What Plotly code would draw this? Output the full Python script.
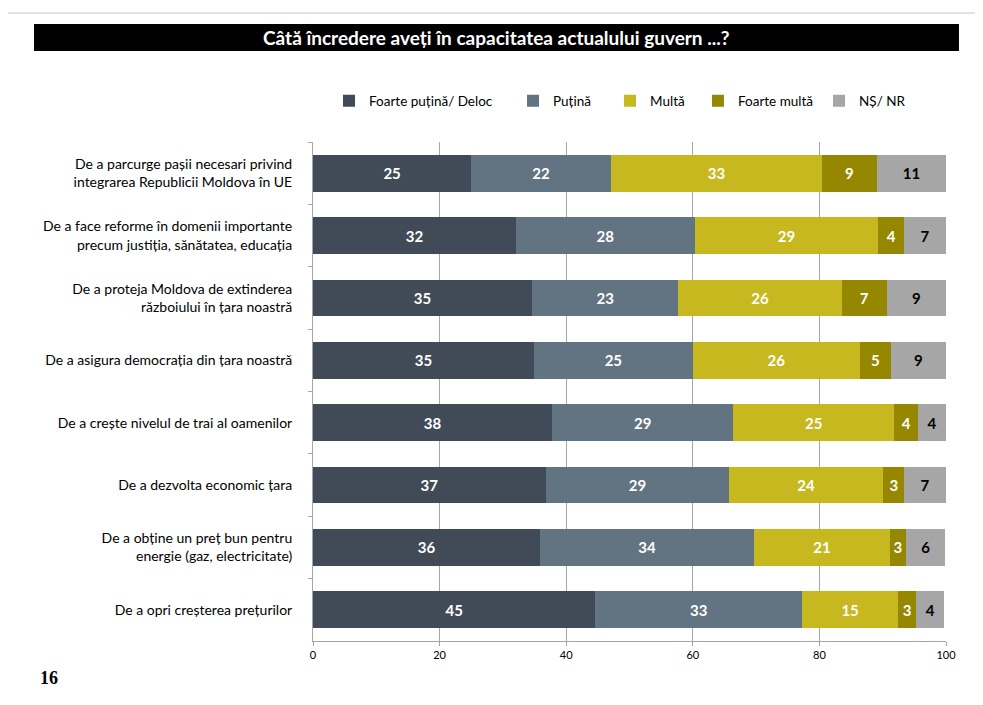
import plotly.graph_objects as go

# Categorii (de sus in jos)
categorii = [
    "De a parcurge pașii necesari privind<br>integrarea Republicii Moldova în UE",
    "De a face reforme în domenii importante<br>precum justiția, sănătatea, educația",
    "De a proteja Moldova de extinderea<br>războiului în țara noastră",
    "De a asigura democrația din țara noastră",
    "De a crește nivelul de trai al oamenilor",
    "De a dezvolta economic țara",
    "De a obține un preț bun pentru<br>energie (gaz, electricitate)",
    "De a opri creșterea prețurilor",
]

# Valori (%)
foarte_putina = [25.0, 32.1, 34.6, 34.9, 37.8, 36.8, 35.9, 44.6]
putina = [22.1, 28.2, 23.1, 25.1, 28.6, 28.9, 33.8, 32.7]
multa = [33.3, 29.0, 25.9, 26.4, 25.4, 24.4, 21.4, 15.1]
foarte_multa = [8.7, 4.1, 7.0, 4.9, 3.8, 3.3, 2.6, 2.9]
ns_nr = [10.9, 6.6, 9.4, 8.7, 4.4, 6.6, 6.2, 4.4]

serii = ["Foarte puțină/ Deloc", "Puțină", "Multă", "Foarte multă", "NȘ/ NR"]
valori = [foarte_putina, putina, multa, foarte_multa, ns_nr]
culori = ["#404b57", "#627382", "#c8b820", "#958700", "#a6a6a6"]
culori_text = ["white", "white", "white", "white", "black"]

font = "Lato"

# fiecare element de legenda are propria pozitie (ca in Excel)
legende = ["legend", "legend2", "legend3", "legend4", "legend5"]
pozitii_legenda = [0.0253, 0.316, 0.4692, 0.6082, 0.7994]

fig = go.Figure()
for nume, val, cul, cul_txt, leg in zip(serii, valori, culori, culori_text, legende):
    fig.add_trace(go.Bar(
        y=categorii, x=val, name=nume, orientation="h",
        marker=dict(color=cul, line=dict(width=0)),
        width=0.59,
        texttemplate="%{x:.0f}", textposition="inside", insidetextanchor="middle",
        textangle=0,
        textfont=dict(family=font, size=15, color=cul_txt, weight="bold"),
        hoverinfo="skip", legend=leg,
    ))

# pagina are 8px margine in browser, deci totul e mutat cu 8px
fig.update_layout(
    barmode="stack",
    width=975, height=697,
    margin=dict(l=305, r=37, t=134, b=64),
    paper_bgcolor="white", plot_bgcolor="white",
    font=dict(family=font, color="black"),
    uniformtext=dict(minsize=15, mode="show"),
    showlegend=True,
    bargap=0.41,
)
for leg, px in zip(legende, pozitii_legenda):
    fig.update_layout({leg: dict(
        orientation="h", x=px, y=1.082, xanchor="left", yanchor="middle",
        font=dict(family=font, size=13.5, color="black"),
        itemwidth=30, bgcolor="rgba(0,0,0,0)",
    )})

fig.update_xaxes(
    range=[0, 100], dtick=20, showgrid=True, gridcolor="#a6a6a6", gridwidth=1,
    showline=True, linecolor="#a6a6a6", linewidth=1,
    ticks="outside", ticklen=4, tickcolor="#a6a6a6",
    tickfont=dict(family=font, size=11, color="black"), zeroline=False,
)
fig.update_yaxes(
    autorange="reversed", showline=True, linecolor="#a6a6a6", linewidth=1,
    ticks="outside", ticklen=4, tickcolor="#a6a6a6", tickson="boundaries",
    ticklabelstandoff=17,
    showgrid=False, tickfont=dict(family=font, size=14, color="black"),
)

# banda neagra a titlului
fig.add_shape(type="rect", xref="paper", yref="paper",
              x0=-0.4408, x1=1.0205, y0=1.1824, y1=1.2365,
              fillcolor="black", line=dict(width=0), layer="below")
fig.add_annotation(text="<b>Câtă încredere aveți în capacitatea actualului guvern ...?</b>",
                   xref="paper", yref="paper", x=0.289, y=1.2095,
                   xanchor="center", yanchor="middle", showarrow=False,
                   font=dict(family=font, size=19, color="white"))
# linia gri de sus
fig.add_shape(type="line", xref="paper", yref="paper",
              x0=-0.4945, x1=1.0585, y0=1.2585, y1=1.2585,
              line=dict(color="#d9d9d9", width=1.5))
# numarul paginii
fig.add_annotation(text="<b>16</b>", xref="paper", yref="paper", x=-0.4344, y=-0.074,
                   xanchor="left", yanchor="middle", showarrow=False,
                   font=dict(family="Liberation Serif", size=18, color="black"))

fig.write_html("out.html")
